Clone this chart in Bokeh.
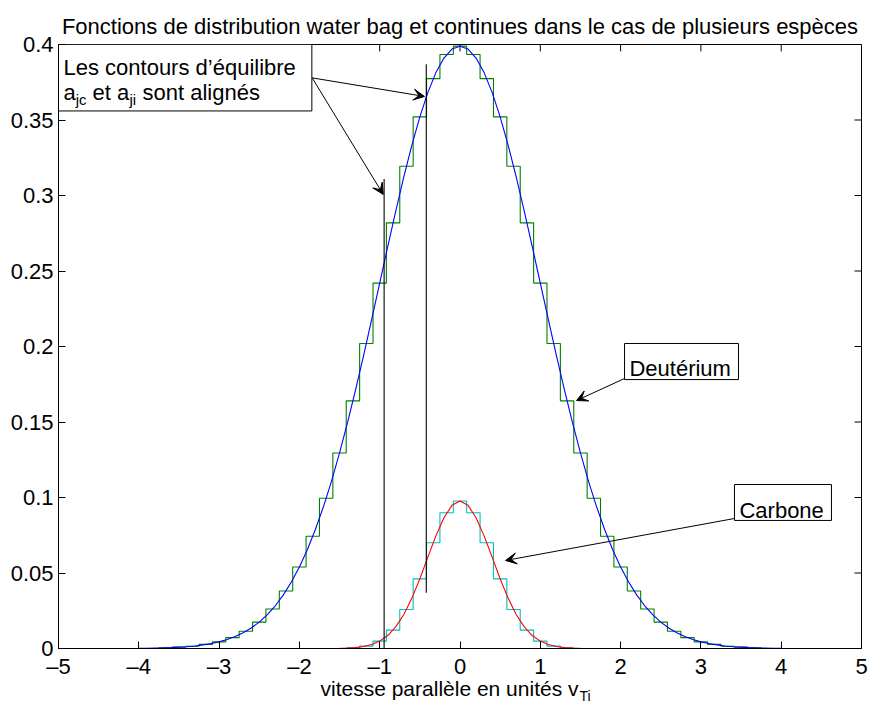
from bokeh.plotting import figure
from bokeh.models import Range1d, FixedTicker, Label, Arrow, VeeHead, Title
from bokeh.embed import file_html
from bokeh.resources import INLINE

FONT = "Liberation Sans"

# ---------------- data ----------------
x_ticks = [-5, -4, -3, -2, -1, 0, 1, 2, 3, 4, 5]
x_tick_labels = ["\u20135", "\u20134", "\u20133", "\u20132", "\u20131", "0", "1", "2", "3", "4", "5"]
y_ticks = [0, 0.05, 0.1, 0.15, 0.2, 0.25, 0.3, 0.35, 0.4]
y_tick_labels = ["0", "0.05", "0.1", "0.15", "0.2", "0.25", "0.3", "0.35", "0.4"]

# continuous distributions (symmetric, positive half)
deut_half_x = [0.0, 0.1, 0.2, 0.3, 0.4, 0.5, 0.6, 0.7, 0.8, 0.9, 1.0, 1.1, 1.2, 1.3, 1.4,
               1.5, 1.6, 1.7, 1.8, 1.9, 2.0, 2.1, 2.2, 2.3, 2.4, 2.5, 2.6, 2.7, 2.8, 2.9,
               3.0, 3.1, 3.2, 3.3, 3.4, 3.5, 3.6, 3.7, 3.8, 3.9, 4.0, 5.0]
deut_half_f = [0.3989, 0.3970, 0.3910, 0.3814, 0.3683, 0.3521, 0.3332, 0.3123, 0.2897, 0.2661,
               0.2420, 0.2179, 0.1942, 0.1714, 0.1497, 0.1295, 0.1109, 0.0940, 0.0790, 0.0656,
               0.0540, 0.0440, 0.0355, 0.0283, 0.0224, 0.0175, 0.0136, 0.0104, 0.0079, 0.0060,
               0.0044, 0.0033, 0.0024, 0.0017, 0.0012, 0.0009, 0.0006, 0.0004, 0.0003, 0.0002,
               0.0001, 0.0]
carb_half_x = [0.0, 0.1, 0.2, 0.3, 0.4, 0.5, 0.6, 0.7, 0.8, 0.9, 1.0, 1.1, 1.2, 1.3, 1.4,
               1.5, 1.6, 5.0]
carb_half_f = [0.0977, 0.0948, 0.0866, 0.0746, 0.0605, 0.0462, 0.0332, 0.0225, 0.0143, 0.0086,
               0.0049, 0.0026, 0.0013, 0.0006, 0.0003, 0.0001, 0.0, 0.0]

# water bag contours (positive half) and bag heights
wb_contours = [0.0833, 0.25, 0.4167, 0.5833, 0.75, 0.9167, 1.0833, 1.25, 1.4167, 1.5833,
               1.75, 1.9167, 2.0833, 2.25, 2.4167, 2.5833, 2.75, 2.9167, 3.0833, 3.25,
               3.4167, 3.5833, 3.75]
deut_levels = [0.3989, 0.3934, 0.3774, 0.3521, 0.3194, 0.2819, 0.2420, 0.2020, 0.1640, 0.1295,
               0.0995, 0.0743, 0.0540, 0.0381, 0.0262, 0.0175, 0.0114, 0.0072, 0.0044, 0.0027,
               0.0015, 0.0009, 0.0005]
carb_levels = [0.0977, 0.0899, 0.0700, 0.0461, 0.0258, 0.0122, 0.0049, 0.0016, 0.0005]

title_text = "Fonctions de distribution water bag et continues dans le cas de plusieurs esp\u00e8ces"
xlabel_text = "vitesse parall\u00e8le en unit\u00e9s v"
xlabel_sub = "Ti"


def mirror(hx, hf):
    xs = [-v for v in reversed(hx[1:])] + list(hx)
    ys = list(reversed(hf[1:])) + list(hf)
    return xs, ys


def waterbag(contours, levels, xmin=-5.0, xmax=5.0):
    m = len(levels) - 1
    xs, ys = [xmin, -contours[m]], [0.0, 0.0]
    for k in range(m, 0, -1):
        xs += [-contours[k], -contours[k - 1]]
        ys += [levels[k], levels[k]]
    xs += [-contours[0], contours[0]]
    ys += [levels[0], levels[0]]
    for k in range(1, m + 1):
        xs += [contours[k - 1], contours[k]]
        ys += [levels[k], levels[k]]
    xs += [contours[m], xmax]
    ys += [0.0, 0.0]
    return xs, ys


# ---------------- figure ----------------
p = figure(width=870, height=705, x_range=Range1d(-5, 5), y_range=Range1d(0, 0.4),
           output_backend="svg", toolbar_location=None,
           min_border_left=58, min_border_right=9, min_border_top=44, min_border_bottom=57)
p.background_fill_color = "white"
p.border_fill_color = "white"
p.outline_line_color = "black"
p.outline_line_width = 1
p.xgrid.visible = False
p.ygrid.visible = False

p.title.text = title_text
p.title.align = "center"
p.title.offset = 7
p.title.text_font = FONT
p.title.text_font_size = "22px"
p.title.text_font_style = "normal"
p.title.text_color = "black"
p.title.standoff = 11

for ax, ticks, labels in ((p.xaxis[0], x_ticks, x_tick_labels), (p.yaxis[0], y_ticks, y_tick_labels)):
    ax.ticker = FixedTicker(ticks=ticks)
    ax.major_label_overrides = {t: l for t, l in zip(ticks, labels)}
    ax.major_tick_in = 7
    ax.major_tick_out = 0
    ax.minor_tick_line_color = None
    ax.axis_line_color = "black"
    ax.major_tick_line_color = "black"
    ax.major_label_text_font = FONT
    ax.major_label_text_font_size = "22px"
    ax.major_label_text_color = "black"
p.xaxis.major_label_standoff = 5
p.yaxis.major_label_standoff = 5

p.add_layout(Title(text=xlabel_text, align="left", offset=262, standoff=-13,
                   text_font=FONT, text_font_size="21px", text_font_style="normal",
                   text_color="black"), "below")
p.add_layout(Title(text=xlabel_sub, align="left", offset=521, standoff=-16,
                   text_font=FONT, text_font_size="14px", text_font_style="normal",
                   text_color="black"), "below")

# inner ticks on the top and right sides of the box
tick_dy = 0.0046
tick_dx = 0.087
p.segment(x0=x_ticks, y0=[0.4] * len(x_ticks), x1=x_ticks, y1=[0.4 - tick_dy] * len(x_ticks),
          line_color="black", line_width=1)
p.segment(x0=[5.0] * len(y_ticks), y0=y_ticks, x1=[5.0 - tick_dx] * len(y_ticks), y1=y_ticks,
          line_color="black", line_width=1)

# water bags and continuous curves
dx, dy = waterbag(wb_contours, deut_levels)
p.line(dx, dy, line_color="#008000", line_width=1.1)
cx, cy = mirror(deut_half_x, deut_half_f)
p.line(cx, cy, line_color="#0000ff", line_width=1.1)
kx, ky = waterbag(wb_contours, carb_levels)
p.line(kx, ky, line_color="#00bfbf", line_width=1.1)
rx, ry = mirror(carb_half_x, carb_half_f)
p.line(rx, ry, line_color="#ff0000", line_width=1.1)

# contour markers
p.segment(x0=[-0.945, -0.42], y0=[0.0, 0.037], x1=[-0.945, -0.42], y1=[0.311, 0.387],
          line_color="black", line_width=1.1)

# annotation boxes
p.quad(left=[-5.0, 2.049, 3.418], right=[-1.845, 3.468, 4.626],
       bottom=[0.356, 0.1781, 0.0848], top=[0.4, 0.2020, 0.1086],
       fill_color="white", line_color="black", line_width=1)


def txt(x, y, s, size="22px", align="left"):
    p.add_layout(Label(x=x, y=y, text=s, text_font=FONT, text_font_size=size,
                       text_color="black", text_align=align, text_baseline="alphabetic"))


txt(-4.938, 0.3846, "Les contours d\u2019\u00e9quilibre")
txt(-4.938, 0.3684, "a")
txt(-4.786, 0.3634, "jc", size="15px")
txt(-4.577, 0.3684, "et a")
txt(-4.116, 0.3634, "ji", size="15px")
txt(-3.954, 0.3684, "sont align\u00e9s")
txt(2.110, 0.1855, "Deut\u00e9rium")
txt(3.480, 0.0917, "Carbone")


def arrow(x0, y0, x1, y1):
    p.add_layout(Arrow(end=VeeHead(size=11, fill_color="black", line_color="black", line_width=1),
                       x_start=x0, y_start=y0, x_end=x1, y_end=y1,
                       line_color="black", line_width=1))


arrow(-1.841, 0.3779, -0.442, 0.3656)
arrow(-1.841, 0.3779, -0.956, 0.3007)
arrow(2.049, 0.1788, 1.451, 0.1642)
arrow(3.418, 0.0861, 0.567, 0.0583)

open("out.html", "w").write(file_html(p, INLINE))
